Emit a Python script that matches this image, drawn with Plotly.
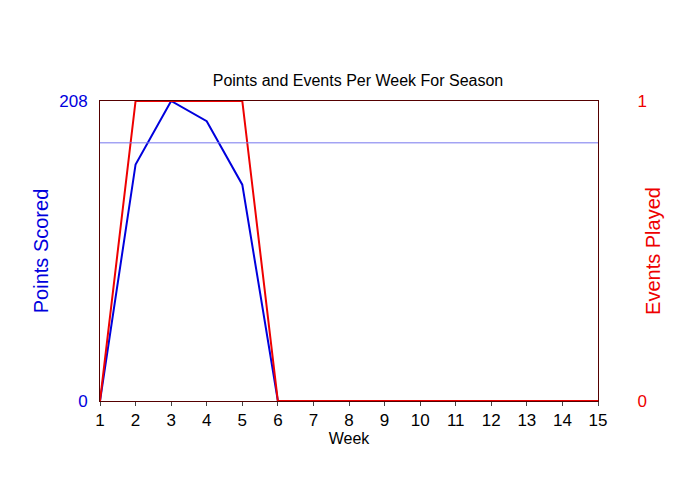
import plotly.graph_objects as go

weeks = list(range(1, 16))
points = [0, 164, 208, 194, 150, 0, 0, 0, 0, 0, 0, 0, 0, 0, 0]
events = [0, 1, 1, 1, 1, 0, 0, 0, 0, 0, 0, 0, 0, 0, 0]
avg_points = 179

fig = go.Figure()
fig.add_trace(go.Scatter(x=weeks, y=points, mode="lines", line=dict(color="#0000dd", width=2), yaxis="y"))
fig.add_trace(go.Scatter(x=weeks, y=events, mode="lines", line=dict(color="#ee0000", width=2), yaxis="y2"))
fig.add_hline(y=avg_points, line=dict(color="#7777ee", width=1))

fig.update_layout(
    width=700, height=500,
    showlegend=False,
    plot_bgcolor="white", paper_bgcolor="white",
    font=dict(family="Liberation Sans, Arial", size=17, color="black"),
    title=dict(text="Points and Events Per Week For Season", x=0.5, y=0.856, yanchor="middle",
               font=dict(size=16)),
    margin=dict(l=92, r=110, t=93, b=107),
    xaxis=dict(range=[1, 15], tickvals=weeks, showgrid=False, zeroline=False,
               title=dict(text="Week", standoff=0, font=dict(size=16)), ticks="outside", ticklen=4,
               showline=True, linecolor="#550000", mirror=True),
    yaxis=dict(range=[0, 208], tickvals=[0, 208], showgrid=False, zeroline=False,
               title=dict(text="Points Scored", font=dict(color="#0000dd"), standoff=5),
               tickfont=dict(color="#0000dd"), showline=True, linecolor="#550000",
               ticklabelstandoff=8),
    yaxis2=dict(range=[0, 1], tickvals=[0, 1], overlaying="y", side="right", showgrid=False,
                zeroline=False, title=dict(text="Events Played", font=dict(color="#ee0000"), standoff=0),
                tickfont=dict(color="#ee0000"), showline=True, linecolor="#550000",
                ticklabelstandoff=35),
)
fig.write_html("out.html")
